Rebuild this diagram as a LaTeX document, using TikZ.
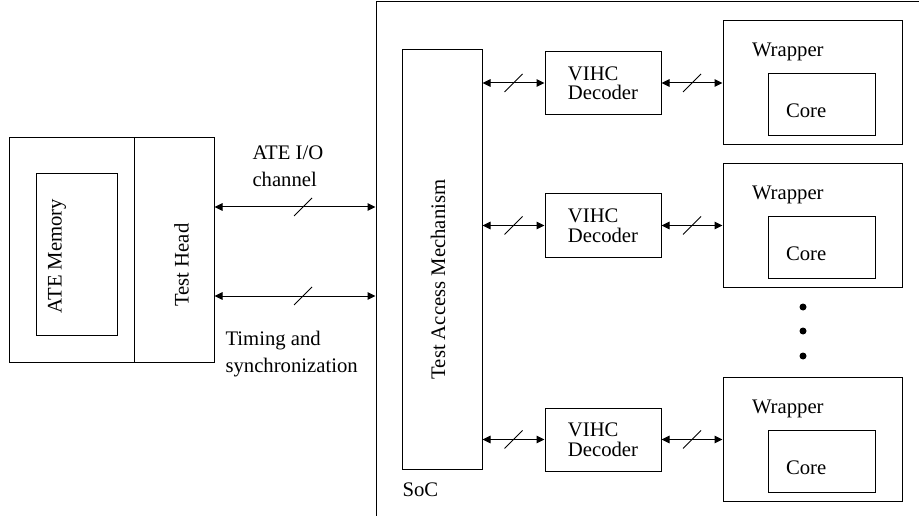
\documentclass[tikz,border=0pt]{standalone}
\usepackage{fontspec}
\setmainfont{Liberation Serif}
\usetikzlibrary{arrows.meta,calc,decorations.markings}
\newcommand{\lblfont}{\fontsize{20.7}{27}\selectfont}
\newcommand{\decfont}{\fontsize{20.7}{19.5}\selectfont}

\begin{document}
\begin{tikzpicture}[x=1pt,y=-1pt,line width=1pt,
    every node/.style={font=\lblfont,inner sep=0pt},
    blk/.style 2 args={draw,rectangle,minimum width=#1,minimum height=#2},
    vtxt/.style={rotate=90},
    lbl/.style={align=left,anchor=north west},
    dectxt/.style={align=left,font=\decfont},
    dot/.style={circle,fill,minimum size=7pt},
    bus/.style={{Triangle[length=8pt,width=7.5pt]}-{Triangle[length=8pt,width=7.5pt]},
                postaction={decorate},
                decoration={markings,mark=at position #1 with
                  {\draw[-,line width=0.8pt] (-9pt,-9pt) -- (9pt,9pt);}}},
    bus/.default=0.5]
  \useasboundingbox (0,0) rectangle (919,516);

  % SoC outline, runs off the page
  \node[blk={584}{558}] (soc) at (668,281) {};

  % tester
  \node[blk={125}{224}] (tester) at (71.5,250) {};
  \node[blk={80}{224}] (head) at (174,250) {};
  \node[blk={81}{161}] (mem) at (76.5,254.5) {};
  \node[vtxt] (memtxt) at (57,256) {ATE Memory};
  \node[vtxt] (headtxt) at (181.5,265) {Test Head};
  \node[lbl] (iolbl) at (252,145) {ATE I/O\\channel};
  \node[lbl] (timlbl) at (225,331) {Timing and\\synchronization};

  \coordinate (ioL) at ($(head.east)+(0,-43)$);
  \coordinate (timL) at ($(head.east)+(0,46)$);
  \draw[bus=0.55] (ioL) -- (ioL -| soc.west);
  \draw[bus=0.55] (timL) -- (timL -| soc.west);

  % inside the SoC
  \node[blk={80}{419}] (tam) at (442,259.5) {};
  \node[vtxt] (tamtxt) at (438,279.5) {Test Access Mechanism};
  \node[lbl] (soclbl) at (402,482) {SoC};

  \foreach \i/\yc in {1/83,2/225.5,3/439.5} {
    \node[blk={116}{63},dectxt] (dec\i) at (603,\yc) {VIHC\\Decoder};
    \node[blk={179}{124}] (wrap\i) at (812.5,\yc) {};
    \node[blk={107}{62}] (core\i) at (821.5,\yc+22) {};
    \node[anchor=north west] (wlbl\i) at ($(wrap\i.north west)+(29,22)$) {Wrapper};
    \node[anchor=north west] (clbl\i) at ($(core\i.north west)+(18,30)$) {Core};
    \draw[bus] (tam.east |- dec\i.west) -- (dec\i.west);
    \draw[bus] (dec\i.east) -- (wrap\i.west);
  }

  \foreach \yc [count=\k] in {307,331,356}
    \node[dot] (dot\k) at (803,\yc) {};
\end{tikzpicture}
\end{document}
